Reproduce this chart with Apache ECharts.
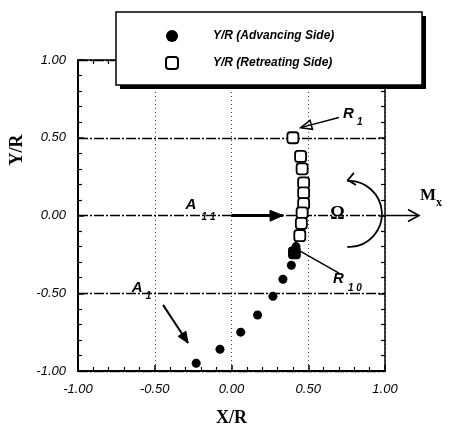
<!DOCTYPE html>
<html><head><meta charset="utf-8">
<script src="https://cdn.jsdelivr.net/npm/echarts@6/dist/echarts.min.js"></script>
<style>html,body{margin:0;padding:0;background:#fff}#c{width:449px;height:434px}</style>
</head><body><div id="c"></div>
<script>
// Advancing side Y/R points (A1..A11)
const advX = [-0.23, -0.075, 0.06, 0.17, 0.27, 0.335, 0.39, 0.42, 0.44, 0.45, 0.46];
const advY = [-0.95, -0.86, -0.75, -0.64, -0.52, -0.41, -0.32, -0.20, -0.14, -0.09, -0.05];
// Retreating side Y/R points (R1..R10)
const retX = [0.40, 0.45, 0.46, 0.47, 0.47, 0.47, 0.46, 0.455, 0.445, 0.41];
const retY = [0.50, 0.38, 0.30, 0.21, 0.145, 0.076, 0.017, -0.05, -0.13, -0.24];
const xTicks = [-1.0, -0.5, 0.0, 0.5, 1.0];
const yTicks = [-1.0, -0.5, 0.0, 0.5, 1.0];
const seriesNames = ['Y/R (Advancing Side)', 'Y/R (Retreating Side)'];

const chart = echarts.init(document.getElementById('c'));
const fmt = v => (v < 0 ? '-' : '') + Math.abs(v).toFixed(2);
const lblFont = {fontStyle: 'italic', fontSize: 13, color: '#000', fontFamily: 'Liberation Sans'};
const axisCommon = {
  min: -1, max: 1, interval: 0.5,
  axisLine: {show: true, onZero: false, lineStyle: {color: '#000', width: 2}},
  axisTick: {show: true, inside: true, length: 6, lineStyle: {color: '#000', width: 1.5}},
  minorTick: {show: true, splitNumber: 5, length: 4, lineStyle: {color: '#000', width: 1.2}},
};
const advData = advX.map((x, i) => [x, advY[i]]);
const retData = retX.map((x, i) => {
  const d = {value: [x, retY[i]]};
  if (i === retX.length - 1) d.itemStyle = {color: '#000'};
  return d;
});
chart.setOption({
  animation: false,
  grid: {left: 78, right: 64, top: 60, bottom: 63},
  xAxis: [
    Object.assign({}, axisCommon, {type: 'value', position: 'bottom',
      axisLabel: Object.assign({}, lblFont, {formatter: fmt, margin: 12}),
      splitLine: {show: true, lineStyle: {type: [1, 3], color: '#444', width: 1}},
      name: 'X/R', nameLocation: 'middle', nameGap: 38,
      nameTextStyle: {fontFamily: 'Liberation Serif', fontWeight: 'bold', fontSize: 18, color: '#000'}}),
    Object.assign({}, axisCommon, {type: 'value', position: 'top', axisLabel: {show: false}, splitLine: {show: false},
      axisLine: {show: true, onZero: false, lineStyle: {color: '#000', width: 1.5}}})
  ],
  yAxis: [
    Object.assign({}, axisCommon, {type: 'value', position: 'left',
      axisLabel: Object.assign({}, lblFont, {formatter: fmt, margin: 12}),
      splitLine: {show: true, lineStyle: {type: [10, 2, 2, 2], color: '#000', width: 1.3}}}),
    Object.assign({}, axisCommon, {type: 'value', position: 'right', axisLabel: {show: false}, splitLine: {show: false},
      axisLine: {show: true, onZero: false, lineStyle: {color: '#000', width: 1.5}}})
  ],
  legend: {
    orient: 'vertical', left: 160, top: 25, itemGap: 14, itemWidth: 12, itemHeight: 12,
    textStyle: {fontStyle: 'italic', fontWeight: 'bold', fontSize: 12, color: '#000', fontFamily: 'Liberation Sans', padding: [0, 0, 0, 30]},
    data: seriesNames, z: 20
  },
  series: [
    {name: seriesNames[0], type: 'scatter', symbol: 'circle', symbolSize: 9, z: 3,
     itemStyle: {color: '#000', opacity: 1}, data: advData},
    {name: seriesNames[1], type: 'scatter', symbol: 'roundRect', symbolSize: 11, z: 4,
     itemStyle: {color: '#fff', borderColor: '#000', borderWidth: 1.8, opacity: 1}, data: retData}
  ]
});

const p = (x, y) => chart.convertToPixel({xAxisIndex: 0, yAxisIndex: 0}, [x, y]);
function arrowHead(tip, from, size, fill) {
  const ang = Math.atan2(tip[1] - from[1], tip[0] - from[0]);
  const a1 = ang + Math.PI - 0.4, a2 = ang + Math.PI + 0.4;
  return {type: 'polygon', z: 30, shape: {points: [
      [tip[0] + size * Math.cos(a1), tip[1] + size * Math.sin(a1)], tip,
      [tip[0] + size * Math.cos(a2), tip[1] + size * Math.sin(a2)]]},
    style: fill ? {fill: '#000', stroke: '#000'} : {fill: 'none', stroke: '#000', lineWidth: 1.5}};
}
function line(a, b, w) {
  return {type: 'line', z: 30, shape: {x1: a[0], y1: a[1], x2: b[0], y2: b[1]}, style: {stroke: '#000', lineWidth: w || 1.5}};
}
function txt(pos, s, size, extra) {
  return {type: 'text', z: 30, x: pos[0], y: pos[1], style: Object.assign({text: s, fill: '#000',
    font: 'italic bold ' + size + 'px "Liberation Sans"', textAlign: 'left', textVerticalAlign: 'middle'}, extra || {})};
}
const g = [];
// legend box with drop shadow
g.push({type: 'rect', z: 9, shape: {x: 120, y: 16, width: 306, height: 73}, style: {fill: '#000', stroke: 'none'}});
g.push({type: 'rect', z: 10, shape: {x: 116, y: 12, width: 306, height: 73}, style: {fill: '#fff', stroke: '#000', lineWidth: 1.5}});
// R1
const r1a = p(0.70, 0.63), r1b = p(0.45, 0.565);
g.push(line(r1a, r1b)); g.push(arrowHead(r1b, r1a, 12, false));
g.push(txt([r1a[0] + 4, r1a[1] - 4], 'R', 15));
g.push(txt([r1a[0] + 18, r1a[1] + 5], '1', 10));
// R10
const r10a = p(0.43, -0.22), r10b = p(0.70, -0.37);
g.push(line(r10a, r10b));
g.push(txt([r10b[0] - 6, r10b[1] + 6], 'R', 15));
g.push(txt([r10b[0] + 9, r10b[1] + 15], '1 0', 10));
// A1
const a1a = p(-0.446, -0.575), a1b = p(-0.283, -0.82);
g.push(line(a1a, a1b, 2)); g.push(arrowHead(a1b, a1a, 12, true));
const a1l = p(-0.61, -0.465);
g.push(txt([a1l[0] - 6, a1l[1]], 'A', 15));
g.push(txt([a1l[0] + 8, a1l[1] + 8], '1', 10));
// A11
const a11a = p(0, 0), a11b = p(0.335, 0);
g.push(line(a11a, a11b, 3)); g.push(arrowHead(a11b, [a11a[0], a11a[1] + 1], 14, true));
const a11l = p(-0.26, 0.07);
g.push(txt([a11l[0] - 6, a11l[1]], 'A', 15));
g.push(txt([a11l[0] + 10, a11l[1] + 13], '1 1', 10));
// Omega and rotation arc
const om = p(0.69, 0.01);
g.push({type: 'text', z: 30, x: om[0], y: om[1], style: {text: 'Ω', fill: '#000', font: 'bold 18px "Liberation Serif"', textAlign: 'center', textVerticalAlign: 'middle'}});
const ctr = p(0.765, 0.01);
g.push({type: 'arc', z: 30, shape: {cx: ctr[0], cy: ctr[1], r: 33, startAngle: -Math.PI / 2 - 0.05, endAngle: Math.PI / 2 + 0.05},
  style: {stroke: '#000', lineWidth: 1.8, fill: 'none'}});
const arcTop = [ctr[0] - 1, ctr[1] - 34];
g.push({type: 'polyline', z: 30, shape: {points: [[arcTop[0] + 6, arcTop[1] - 7], arcTop, [arcTop[0] + 8, arcTop[1] + 5]]}, style: {stroke: '#000', lineWidth: 1.8, fill: 'none'}});
// Mx arrow beyond the frame
const mx0 = p(1.0, 0), mx1 = [mx0[0] + 34, mx0[1]];
g.push(line(mx0, mx1, 1.6));
g.push({type: 'polyline', z: 30, shape: {points: [[mx1[0] - 11, mx1[1] - 6], mx1, [mx1[0] - 11, mx1[1] + 6]]}, style: {stroke: '#000', lineWidth: 1.6, fill: 'none'}});
g.push({type: 'text', z: 30, x: mx1[0] + 1, y: mx1[1] - 20, style: {text: 'M', fill: '#000', font: 'bold 17px "Liberation Serif"', textAlign: 'left', textVerticalAlign: 'middle'}});
g.push({type: 'text', z: 30, x: mx1[0] + 17, y: mx1[1] - 13, style: {text: 'x', fill: '#000', font: 'bold 12px "Liberation Serif"', textAlign: 'left', textVerticalAlign: 'middle'}});
// Y/R axis title
g.push({type: 'text', z: 30, x: 17, y: 150, rotation: Math.PI / 2, style: {text: 'Y/R', fill: '#000', font: 'bold 18px "Liberation Serif"', textAlign: 'center', textVerticalAlign: 'middle'}});
chart.setOption({graphic: g});
</script></body></html>
